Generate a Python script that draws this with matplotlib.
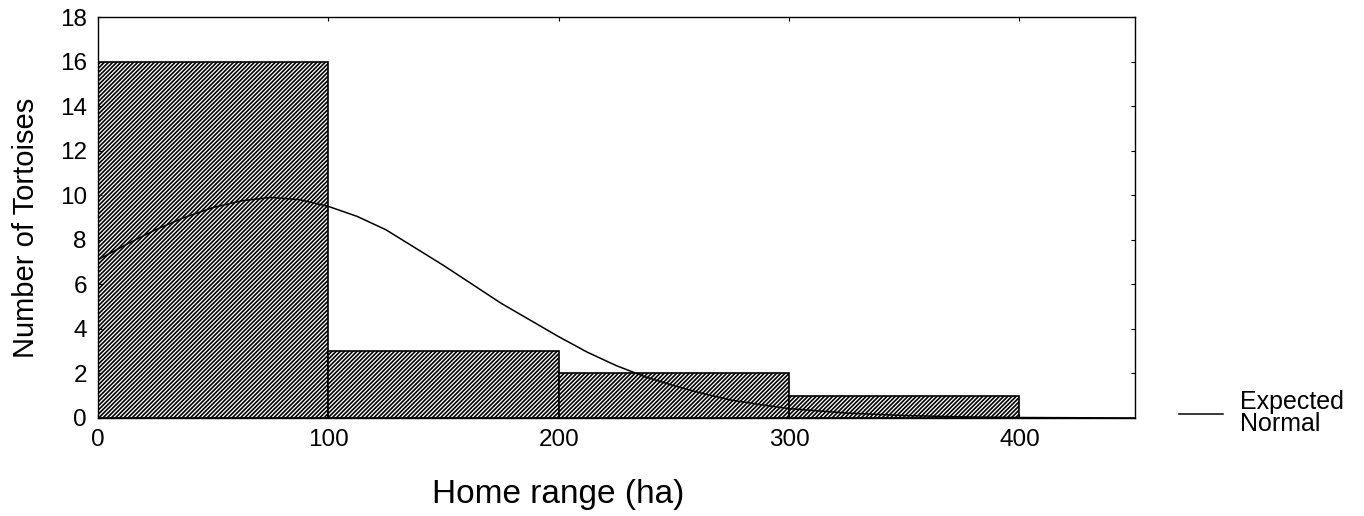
import matplotlib
matplotlib.use("Agg")
import matplotlib.pyplot as plt

plt.rcParams['font.family'] = ['Liberation Sans', 'DejaVu Sans']
plt.rcParams['hatch.linewidth'] = 1.2

# histogram of home ranges, 100 ha bins
bin_edges = [0, 100, 200, 300, 400]
counts = [16, 3, 2, 1]

# expected normal curve, read at 12.5 ha steps
curve_x = [0, 12.5, 25, 37.5, 50, 62.5, 75, 87.5, 100, 112.5, 125, 137.5,
           150, 162.5, 175, 187.5, 200, 212.5, 225, 237.5, 250, 262.5, 275,
           287.5, 300, 325, 350, 375, 400, 425, 450]
curve_y = [7.1, 7.8, 8.45, 9.0, 9.45, 9.75, 9.9, 9.8, 9.5, 9.05, 8.45, 7.65,
           6.85, 6.0, 5.15, 4.4, 3.65, 2.95, 2.35, 1.85, 1.45, 1.1, 0.8,
           0.6, 0.42, 0.22, 0.11, 0.05, 0.02, 0.01, 0.0]

xticks = [0, 100, 200, 300, 400]
yticks = list(range(0, 19, 2))

fig = plt.figure(figsize=(13.64, 5.16), dpi=100)
ax = fig.add_axes([0.0718, 0.19, 0.760, 0.777])

widths = [b - a for a, b in zip(bin_edges[:-1], bin_edges[1:])]
ax.bar(bin_edges[:-1], counts, width=widths, align='edge',
       facecolor='white', edgecolor='black', hatch='////////', linewidth=1.2,
       zorder=1)
ax.plot(curve_x, curve_y, color='black', lw=1.1, label='Expected\nNormal',
        zorder=3)

ax.set_xlim(0, 450)
ax.set_ylim(0, 18)
ax.set_xticks(xticks)
ax.set_yticks(yticks)
ax.tick_params(direction='in', length=3, labelsize=17.5, top=True, right=True,
               labeltop=False, labelright=False, pad=8)
for s in ax.spines.values():
    s.set_linewidth(1.0)

ax.set_xlabel("Home range (ha)", fontsize=24)
ax.set_ylabel("Number of Tortoises", fontsize=21)
ax.xaxis.set_label_coords(0.444, -0.152)
ax.yaxis.set_label_coords(-0.056, 0.474)

leg = ax.legend(loc='center left', bbox_to_anchor=(1.021, 0.012), frameon=False,
                fontsize=18, handlelength=1.75, handletextpad=0.7)
for t in leg.get_texts():
    t.set_linespacing(0.9)

plt.savefig("out.png", dpi=100)
